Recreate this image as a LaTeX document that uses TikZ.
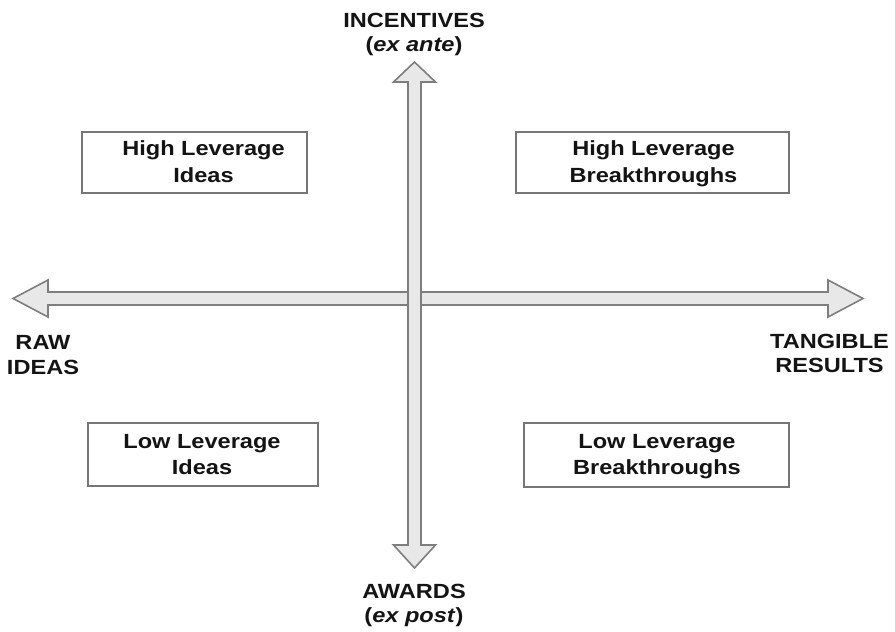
\documentclass[tikz,border=0pt]{standalone}
\usepackage{fontspec}
\newfontfamily\labelfont{Liberation Sans}[FakeStretch=1.15]
\definecolor{arrowfill}{HTML}{E8E8E8}
\definecolor{arrowedge}{HTML}{7E7E7E}
\definecolor{boxedge}{HTML}{767676}
\definecolor{ink}{HTML}{141414}
\begin{document}
\begin{tikzpicture}[x=1pt,y=-1pt,
  arrowbody/.style={draw=arrowedge, fill=arrowfill, line width=1.6pt, line join=miter},
  quadbox/.style={draw=boxedge, fill=white, line width=1.5pt, inner sep=0pt},
  boxtext/.style={font={\labelfont\bfseries\fontsize{20.5}{26.5}\selectfont}, align=center, inner sep=0pt, text=ink},
  axislabel/.style={font={\labelfont\bfseries\fontsize{20.5}{24.5}\selectfont}, align=center, inner sep=0pt, text=ink}]
\useasboundingbox (0,0) rectangle (895,632);

% horizontal axis: raw ideas <-> tangible results
\draw[arrowbody] (13,298.5) -- (48,280) -- (48,292) -- (828,292) -- (828,280)
  -- (863,298.5) -- (828,317) -- (828,305) -- (48,305) -- (48,317) -- cycle;

% vertical axis: incentives <-> awards (drawn over the horizontal one)
\draw[arrowbody] (414.5,62) -- (435.5,82) -- (421,82) -- (421,545) -- (435.5,545)
  -- (414.5,568) -- (393.5,545) -- (408,545) -- (408,82) -- (393.5,82) -- cycle;

% axis end labels
\node[axislabel] (incentives) at (414,34.4) {\strut INCENTIVES\\\strut(\textit{ex ante})};
\node[axislabel] (awards) at (414,605.4) {\strut AWARDS\\\strut(\textit{ex post})};
\node[axislabel] (raw) at (43,357) {\strut RAW\\\strut IDEAS};
\node[axislabel] (tangible) at (829.5,355.5) {\strut TANGIBLE\\\strut RESULTS};

% quadrant boxes
\node[quadbox, minimum width=225, minimum height=61] (hli) at (194.5,162.5) {};
\node[quadbox, minimum width=273, minimum height=61] (hlb) at (652.5,162.5) {};
\node[quadbox, minimum width=230, minimum height=63] (lli) at (203,454.5) {};
\node[quadbox, minimum width=265, minimum height=64] (llb) at (656.5,455) {};

\node[boxtext] (hli-text) at (203.5,163.5) {\strut High Leverage\\\strut Ideas};
\node[boxtext] (hlb-text) at (653.5,163.5) {\strut High Leverage\\\strut Breakthroughs};
\node[boxtext] (lli-text) at (202,456) {\strut Low Leverage\\\strut Ideas};
\node[boxtext] (llb-text) at (657,456) {\strut Low Leverage\\\strut Breakthroughs};
\end{tikzpicture}
\end{document}
